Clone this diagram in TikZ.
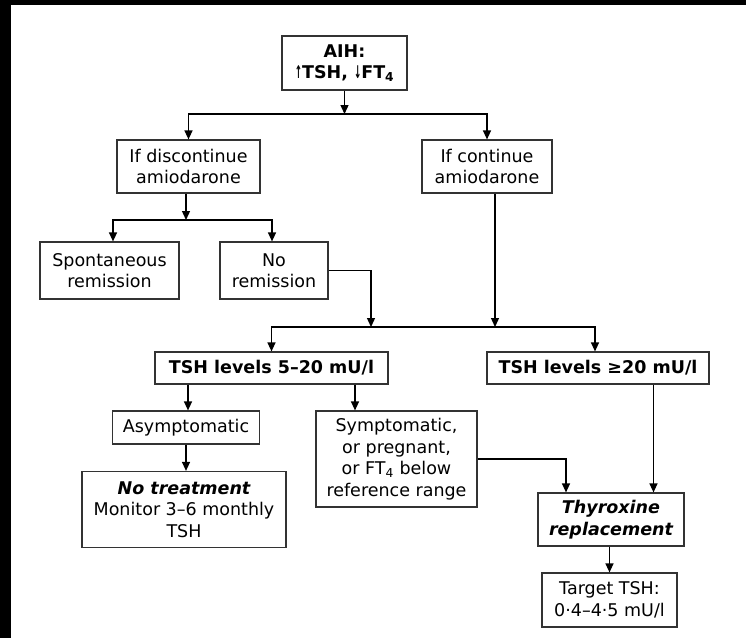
\documentclass[tikz,border=0pt]{standalone}
\usepackage{fontspec}
\setmainfont{DejaVu Sans}
\usetikzlibrary{arrows.meta}
\newcommand{\upar}{\scalebox{0.5}[1]{↑}}
\newcommand{\dnar}{\scalebox{0.5}[1]{↓}}
\begin{document}
\begin{tikzpicture}[x=1pt,y=-1pt,
  box/.style={draw=black!80, line width=1.2pt, fill=white, inner sep=0pt, align=center,
    font=\fontsize{17.5}{21.5}\selectfont},
  arr/.style={line width=1.3pt, -{Triangle[length=9pt,width=8pt]}}]
\useasboundingbox (0,0) rectangle (746,638);
\fill[black] (0,0) rectangle (746,5);
\fill[black] (0,0) rectangle (11,638);

% nodes
\node[box, minimum width=125pt, minimum height=54pt, font=\fontsize{17.5}{21.5}\selectfont\bfseries] (aih) at (344.5,63) {AIH:\\\upar TSH, \dnar FT\textsubscript{4}};
\node[box, minimum width=143pt, minimum height=53pt] (disc) at (188.5,166.5) {If discontinue\\amiodarone};
\node[box, minimum width=130pt, minimum height=53pt] (cont) at (487,166.5) {If continue\\amiodarone};
\node[box, minimum width=139pt, minimum height=57pt] (spont) at (109.5,270.5) {Spontaneous\\remission};
\node[box, minimum width=108pt, minimum height=57pt] (norem) at (274,270.5) {No\\remission};
\node[box, minimum width=233pt, minimum height=32pt, font=\fontsize{17.5}{21.5}\selectfont\bfseries] (tsha) at (271.5,368) {TSH levels 5–20 mU/l};
\node[box, minimum width=222pt, minimum height=32pt, font=\fontsize{17.5}{21.5}\selectfont\bfseries] (tshb) at (598,368) {TSH levels ≥20 mU/l};
\node[box, minimum width=147pt, minimum height=33pt] (asym) at (186,427.5) {Asymptomatic};
\node[box, minimum width=161pt, minimum height=96pt] (symp) at (396.5,459) {Symptomatic,\\or pregnant,\\or FT\textsubscript{4} below\\reference range};
\node[box, minimum width=204pt, minimum height=76pt] (notr) at (184,509.5) {{\bfseries\itshape No treatment}\\Monitor 3–6 monthly\\TSH};
\node[box, minimum width=146pt, minimum height=53pt, font=\fontsize{17.5}{21.5}\selectfont\bfseries\itshape] (thyr) at (611,519.5) {Thyroxine\\replacement};
\node[box, minimum width=135pt, minimum height=54pt] (targ) at (609.5,600) {Target TSH:\\0·4–4·5 mU/l};

% junction coordinates
\coordinate (j1) at (344.5,114);
\coordinate (j2) at (186,220);
\coordinate (j3) at (371,327);
\coordinate (j4) at (495,327);
\coordinate (ks) at (355,0);
\coordinate (kt) at (653.5,0);

% connectors
\draw[arr] (aih.south) -- (j1);
\draw[arr] (j1) -| (disc.north);
\draw[arr] (j1) -| (cont.north);
\draw[arr] (disc.south -| j2) -- (j2);
\draw[arr] (j2) -| ([xshift=3.5pt]spont.north);
\draw[arr] (j2) -| ([xshift=-2pt]norem.north);
\draw[arr] (norem.east) -| (j3);
\draw[arr] (cont.south -| j4) -- (j4);
\draw[arr] (j3) -| (tsha.north);
\draw[arr] (j3) -| ([xshift=-3pt]tshb.north);
\draw[arr] ([xshift=2pt]tsha.south -| asym.north) -- ([xshift=2pt]asym.north);
\draw[arr] (tsha.south -| ks) -- (symp.north -| ks);
\draw[arr] (asym.south) -- (asym.south |- notr.north);
\draw[arr] (symp.east) -| ([xshift=-45pt]thyr.north);
\draw[arr] (tshb.south -| kt) -- (thyr.north -| kt);
\draw[arr] (thyr.south -| targ.north) -- (targ.north);
\end{tikzpicture}
\end{document}
